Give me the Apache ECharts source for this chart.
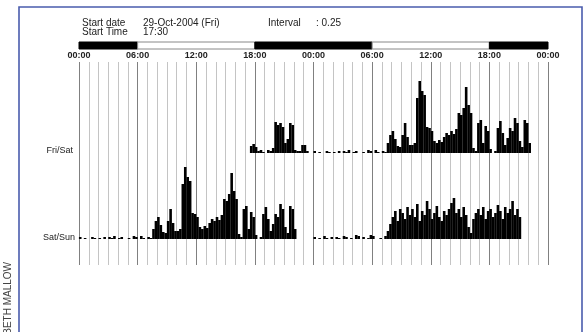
<!DOCTYPE html>
<html><head><meta charset="utf-8">
<script src="https://cdn.jsdelivr.net/npm/echarts@6/dist/echarts.min.js"></script>
<style>html,body{margin:0;padding:0;background:#fff}#c{width:588px;height:332px}</style>
</head><body><div id="c"></div><script>
const tickLabels = ['00:00','06:00','12:00','18:00','00:00','06:00','12:00','18:00','00:00'];
const rowLabels = ['Fri/Sat','Sat/Sun'];
const headerLabels = ['Start date','Start Time','Interval'];
const headerValues = ['29-Oct-2004 (Fri)','17:30',': 0.25'];
const credit = 'ELIZABETH MALLOW';
const ldStart = [0,6,18,30,42];
const ldEnd = [6,18,30,42,48];
const ldDark = [1,0,1,0,1];
const binHours = 0.25;
const friday = [
 null,null,null,null, null,null,null,null, null,null,null,null, null,null,null,null,
 null,null,null,null, null,null,null,null, null,null,null,null, null,null,null,null,
 null,null,null,null, null,null,null,null, null,null,null,null, null,null,null,null,
 null,null,null,null, null,null,null,null, null,null,null,null, null,null,null,null,
 null,null,null,null, null,null,7,9, 6,2,3,1, 0,3,2,5,
 31,28,30,26, 10,14,30,28, 3,2,2,8, 8,2,0,0
];
const saturday = [
 2,0,1,0, 0,2,1,0, 1,0,2,0, 2,1,3,0, 1,2,0,0, 1,0,3,2,
 0,3,1,0, 2,1,10,18, 22,14,7,6, 18,30,16,8, 8,10,55,72, 62,58,26,25,
 22,12,10,13, 11,16,20,18, 22,19,24,40, 38,45,66,48, 40,5,2,30, 33,10,27,22,
 4,0,2,25, 32,20,8,15, 25,22,35,30, 12,6,33,30, 10,0,0,0, 0,0,0,0
];
const sunday = [
 2,0,1,0, 3,1,0,2, 0,2,1,0, 3,2,0,1, 0,4,3,0, 2,0,1,4,
 3,0,0,1, 0,3,8,15, 22,28,18,30, 26,20,32,24, 30,22,35,18, 28,24,38,30,
 20,26,33,22, 18,28,24,30, 36,41,26,30, 22,32,24,12, 6,20,26,30, 24,32,20,28,
 30,22,26,34, 28,20,32,26, 30,38,24,30, 22,0,0,0, 0,0,0,0, 0,0,0,0
];

function toPoints(day, offset){
  const out = [];
  day.forEach((v,i)=>{ if(v!=null) out.push([offset + i*binHours + binHours/2, v]); });
  return out;
}
const row1 = toPoints(friday,0).concat(toPoints(saturday,24));
const row2 = toPoints(saturday,0).concat(toPoints(sunday,24));

const L = 79, W = 469;
const chart = echarts.init(document.getElementById('c'));
const minor = '#c4c4c4', major = '#808080';
const hidX = (g)=>({type:'value',gridIndex:g,min:0,max:48,show:false});
const hidY = (g,max)=>({type:'value',gridIndex:g,min:0,max:max,show:false});
const font = 'Liberation Sans, Arial, sans-serif';

chart.setOption({
  animation:false,
  grid:[
    {left:L,width:W,top:62,height:203},
    {left:L,width:W,top:42,height:7},
    {left:L,width:W,top:68,height:85},
    {left:L,width:W,top:154,height:85}
  ],
  xAxis:[
    {type:'value',gridIndex:0,min:0,max:48,interval:1,position:'top',
     axisLine:{show:false},axisTick:{show:false},
     splitLine:{show:true,lineStyle:{width:1,color:[major,minor,minor,minor,minor,minor]}},
     axisLabel:{show:true,margin:2,fontSize:9,fontFamily:font,color:'#222',fontWeight:'bold',
       formatter:(v)=> (v%6===0 ? tickLabels[v/6] : '')}},
    hidX(1),hidX(2),hidX(3)
  ],
  yAxis:[
    {type:'value',gridIndex:0,min:0,max:1,show:false},
    hidY(1,1),hidY(2,85),hidY(3,85)
  ],
  series:[
    {type:'custom',xAxisIndex:1,yAxisIndex:1,
     data: ldStart.map((s,i)=>[s,ldEnd[i],ldDark[i]]),
     encode:{x:[0,1]},
     renderItem:(params,api)=>{
       const p0 = api.coord([api.value(0),1]);
       const p1 = api.coord([api.value(1),0]);
       const dark = api.value(2)===1;
       return {type:'rect',shape:{x:p0[0],y:p0[1],width:p1[0]-p0[0],height:p1[1]-p0[1]},
         style:{fill:dark?'#000':'#fff',stroke:dark?'#000':'#888',lineWidth:1}};
     }},
    {type:'bar',xAxisIndex:2,yAxisIndex:2,data:row1,barWidth:2.6,itemStyle:{color:'#000'},silent:true},
    {type:'bar',xAxisIndex:3,yAxisIndex:3,data:row2,barWidth:2.6,itemStyle:{color:'#000'},silent:true}
  ],
  graphic:[
    {type:'rect',shape:{x:19,y:7,width:563,height:345},style:{fill:'none',stroke:'#4a5cad',lineWidth:1.6},z:10},
    {type:'text',x:82,y:23,style:{text:headerLabels[0],font:'10px '+font,fill:'#222',verticalAlign:'middle'}},
    {type:'text',x:82,y:32,style:{text:headerLabels[1],font:'10px '+font,fill:'#222',verticalAlign:'middle'}},
    {type:'text',x:143,y:23,style:{text:headerValues[0],font:'10px '+font,fill:'#222',verticalAlign:'middle'}},
    {type:'text',x:143,y:32,style:{text:headerValues[1],font:'10px '+font,fill:'#222',verticalAlign:'middle'}},
    {type:'text',x:268,y:23,style:{text:headerLabels[2],font:'10px '+font,fill:'#222',verticalAlign:'middle'}},
    {type:'text',x:316,y:23,style:{text:headerValues[2],font:'10px '+font,fill:'#222',verticalAlign:'middle'}},
    {type:'text',x:73,y:151,style:{text:rowLabels[0],font:'9px '+font,fill:'#222',align:'right',verticalAlign:'middle'}},
    {type:'text',x:75,y:238,style:{text:rowLabels[1],font:'9px '+font,fill:'#222',align:'right',verticalAlign:'middle'}},
    {type:'text',x:8,y:262,rotation:Math.PI/2,style:{text:credit,font:'10px '+font,fill:'#444',align:'right',verticalAlign:'middle'}}
  ]
});
</script></body></html>
